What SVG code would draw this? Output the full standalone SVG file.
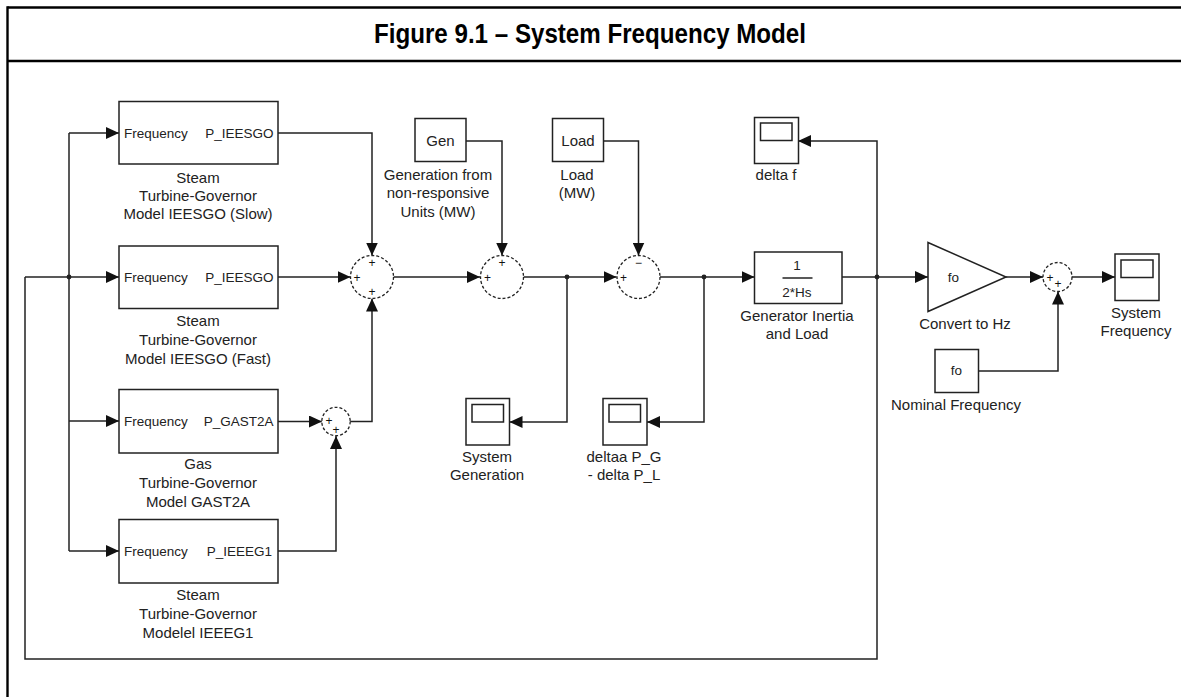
<svg xmlns="http://www.w3.org/2000/svg" width="1181" height="697" viewBox="0 0 1181 697">
<style>
.frame{stroke:#000;stroke-width:2.4;fill:none}
.title{font-family:"Liberation Sans Narrow","Liberation Sans",Arial,sans-serif;font-weight:bold;font-size:27px;fill:#000;text-anchor:middle}
.blk{fill:#fff;stroke:#222;stroke-width:1.5}
.sum{fill:#fff;stroke:#222;stroke-width:1.3;stroke-dasharray:3 2}
.w{fill:none;stroke:#222;stroke-width:1.5}
.t{font-family:"Liberation Sans",Arial,sans-serif;font-size:15px;fill:#222;text-anchor:middle}
.tb{font-family:"Liberation Sans",Arial,sans-serif;font-size:13.5px;fill:#222;text-anchor:middle}
.ts{font-family:"Liberation Sans",Arial,sans-serif;font-size:13.5px;fill:#222;text-anchor:start}
.te{font-family:"Liberation Sans",Arial,sans-serif;font-size:13.5px;fill:#222;text-anchor:end}
.sg{font-family:"Liberation Sans",Arial,sans-serif;font-size:12px;fill:#111;text-anchor:middle}
.dot{fill:#222}
</style>
<defs>
<marker id="ah" markerUnits="userSpaceOnUse" viewBox="0 0 13 12" markerWidth="13" markerHeight="12" refX="13" refY="6" orient="auto">
<path d="M0,0 L13,6 L0,12 z" fill="#111"/>
</marker>
</defs>
<rect width="1181" height="697" fill="#fff"/>
<g id="frame">
<line class="frame" x1="7.5" y1="7.5" x2="1181" y2="7.5"/>
<line class="frame" x1="7.5" y1="61" x2="1181" y2="61"/>
<line class="frame" x1="7.5" y1="6.3" x2="7.5" y2="697"/>
<text class="title" x="590" y="42.5" textLength="432" lengthAdjust="spacingAndGlyphs">Figure 9.1 – System Frequency Model</text>
</g>

<g id="connectors">
<polyline class="w" points="69,133 69,551"/>
<line class="w" x1="69" y1="133" x2="119" y2="133" marker-end="url(#ah)"/>
<line class="w" x1="25" y1="277" x2="119" y2="277" marker-end="url(#ah)"/>
<line class="w" x1="69" y1="421" x2="119" y2="421" marker-end="url(#ah)"/>
<line class="w" x1="69" y1="551" x2="119" y2="551" marker-end="url(#ah)"/>
<polyline class="w" points="877,277 877,659 25,659 25,277"/>
<polyline class="w" points="877,277 877,141 798,141" marker-end="url(#ah)"/>
<polyline class="w" points="278,133 372,133 372,255.5" marker-end="url(#ah)"/>
<line class="w" x1="278" y1="277" x2="350.5" y2="277" marker-end="url(#ah)"/>
<line class="w" x1="278" y1="421.5" x2="322" y2="421.5" marker-end="url(#ah)"/>
<polyline class="w" points="278,551 336,551 336,436" marker-end="url(#ah)"/>
<polyline class="w" points="350,421.5 372,421.5 372,298.5" marker-end="url(#ah)"/>
<line class="w" x1="393.5" y1="277" x2="480" y2="277" marker-end="url(#ah)"/>
<polyline class="w" points="466,141 502,141 502,255.5" marker-end="url(#ah)"/>
<line class="w" x1="523.5" y1="277" x2="616.5" y2="277" marker-end="url(#ah)"/>
<polyline class="w" points="567,277 567,422 509.5,422" marker-end="url(#ah)"/>
<polyline class="w" points="603.5,141 638.5,141 638.5,255.5" marker-end="url(#ah)"/>
<line class="w" x1="660" y1="277" x2="754.5" y2="277" marker-end="url(#ah)"/>
<polyline class="w" points="704,277 704,422 647,422" marker-end="url(#ah)"/>
<line class="w" x1="842" y1="277" x2="928" y2="277" marker-end="url(#ah)"/>
<line class="w" x1="1006" y1="277" x2="1043" y2="277" marker-end="url(#ah)"/>
<line class="w" x1="1072" y1="277" x2="1115" y2="277" marker-end="url(#ah)"/>
<polyline class="w" points="978.5,371 1058,371 1058,291.5" marker-end="url(#ah)"/>
<circle class="dot" cx="69" cy="277" r="2.4"/>
<circle class="dot" cx="567" cy="277" r="2.4"/>
<circle class="dot" cx="704" cy="277" r="2.4"/>
<circle class="dot" cx="877" cy="277" r="2.4"/>
</g>

<g id="tg-slow">
<rect class="blk" x="119" y="101.5" width="159" height="62.5"/>
<text class="ts" x="124" y="138">Frequency</text>
<text class="te" x="273.5" y="138">P_IEESGO</text>
<text class="t" x="198" y="183">Steam</text>
<text class="t" x="198" y="201">Turbine-Governor</text>
<text class="t" x="198" y="219">Model IEESGO (Slow)</text>
</g>
<g id="tg-fast">
<rect class="blk" x="119" y="246" width="159" height="62.5"/>
<text class="ts" x="124" y="282">Frequency</text>
<text class="te" x="273.5" y="282">P_IEESGO</text>
<text class="t" x="198" y="326">Steam</text>
<text class="t" x="198" y="345">Turbine-Governor</text>
<text class="t" x="198" y="363.5">Model IEESGO (Fast)</text>
</g>
<g id="gas-tg">
<rect class="blk" x="119" y="389.5" width="159" height="63.5"/>
<text class="ts" x="124" y="426">Frequency</text>
<text class="te" x="273.5" y="426">P_GAST2A</text>
<text class="t" x="198" y="469">Gas</text>
<text class="t" x="198" y="488">Turbine-Governor</text>
<text class="t" x="198" y="507">Model GAST2A</text>
</g>
<g id="tg-ieeeg1">
<rect class="blk" x="119" y="519.5" width="159" height="63.5"/>
<text class="ts" x="124" y="556">Frequency</text>
<text class="te" x="272" y="556">P_IEEEG1</text>
<text class="t" x="198" y="600">Steam</text>
<text class="t" x="198" y="618.5">Turbine-Governor</text>
<text class="t" x="198" y="637.5">Modelel IEEEG1</text>
</g>

<g id="sum1">
<circle class="sum" cx="372" cy="277" r="21.5"/>
<text class="sg" x="372" y="267">+</text>
<text class="sg" x="357" y="281.5">+</text>
<text class="sg" x="372" y="296">+</text>
</g>
<g id="sum-small">
<circle class="sum" cx="336" cy="421.5" r="14.2"/>
<text class="sg" x="329" y="425">+</text>
<text class="sg" x="336" y="433.5">+</text>
</g>
<g id="gen">
<rect class="blk" x="415" y="118.5" width="51" height="43"/>
<text class="t" x="440.5" y="145.5">Gen</text>
<text class="t" x="438" y="179.5">Generation from</text>
<text class="t" x="438" y="197.5">non-responsive</text>
<text class="t" x="438" y="216.5">Units (MW)</text>
</g>
<g id="sum2">
<circle class="sum" cx="502" cy="277" r="21.5"/>
<text class="sg" x="502" y="266.5">+</text>
<text class="sg" x="487.5" y="281.5">+</text>
</g>
<g id="load">
<rect class="blk" x="552.5" y="118.5" width="51" height="43"/>
<text class="t" x="578" y="145.5">Load</text>
<text class="t" x="577" y="179.5">Load</text>
<text class="t" x="577" y="197.5">(MW)</text>
</g>
<g id="sum3">
<circle class="sum" cx="638.5" cy="277" r="21.5"/>
<text class="sg" x="638.5" y="266.5">−</text>
<text class="sg" x="623.5" y="281.5">+</text>
</g>
<g id="scope-gen">
<rect class="blk" x="466" y="398.5" width="43.5" height="46.5"/>
<rect class="blk" x="472" y="404.5" width="31.5" height="17.5"/>
<text class="t" x="487" y="461.5">System</text>
<text class="t" x="487" y="480">Generation</text>
</g>
<g id="scope-dp">
<rect class="blk" x="603" y="398.5" width="44" height="46.5"/>
<rect class="blk" x="609" y="404.5" width="31.5" height="17.5"/>
<text class="t" x="624" y="461.5">deltaa P_G</text>
<text class="t" x="624" y="480">- delta P_L</text>
</g>
<g id="inertia">
<rect class="blk" x="754.5" y="252" width="87.5" height="51.5"/>
<text class="tb" x="797" y="270">1</text>
<line class="w" x1="782.5" y1="278" x2="812.5" y2="278"/>
<text class="tb" x="797" y="296.5">2*Hs</text>
<text class="t" x="797" y="320.5">Generator Inertia</text>
<text class="t" x="797" y="339">and Load</text>
</g>
<g id="scope-df">
<rect class="blk" x="754.5" y="117.5" width="44" height="46"/>
<rect class="blk" x="760.5" y="123" width="31.5" height="17.5"/>
<text class="t" x="776" y="180">delta f</text>
</g>
<g id="gain">
<polygon class="blk" points="928,242.5 1006,277 928,311.5"/>
<text class="tb" x="953.5" y="281.5">fo</text>
<text class="t" x="965" y="329">Convert to Hz</text>
</g>
<g id="sum4">
<circle class="sum" cx="1057.5" cy="277" r="14.5"/>
<text class="sg" x="1050" y="281.5">+</text>
<text class="sg" x="1058" y="288">+</text>
</g>
<g id="nominal">
<rect class="blk" x="935" y="349.5" width="43.5" height="43"/>
<text class="tb" x="956.5" y="375">fo</text>
<text class="t" x="956" y="409.5">Nominal Frequency</text>
</g>
<g id="scope-sf">
<rect class="blk" x="1115" y="254" width="44" height="46.5"/>
<rect class="blk" x="1121" y="260" width="32" height="17.5"/>
<text class="t" x="1136" y="317.5">System</text>
<text class="t" x="1136" y="336">Frequency</text>
</g>
</svg>
